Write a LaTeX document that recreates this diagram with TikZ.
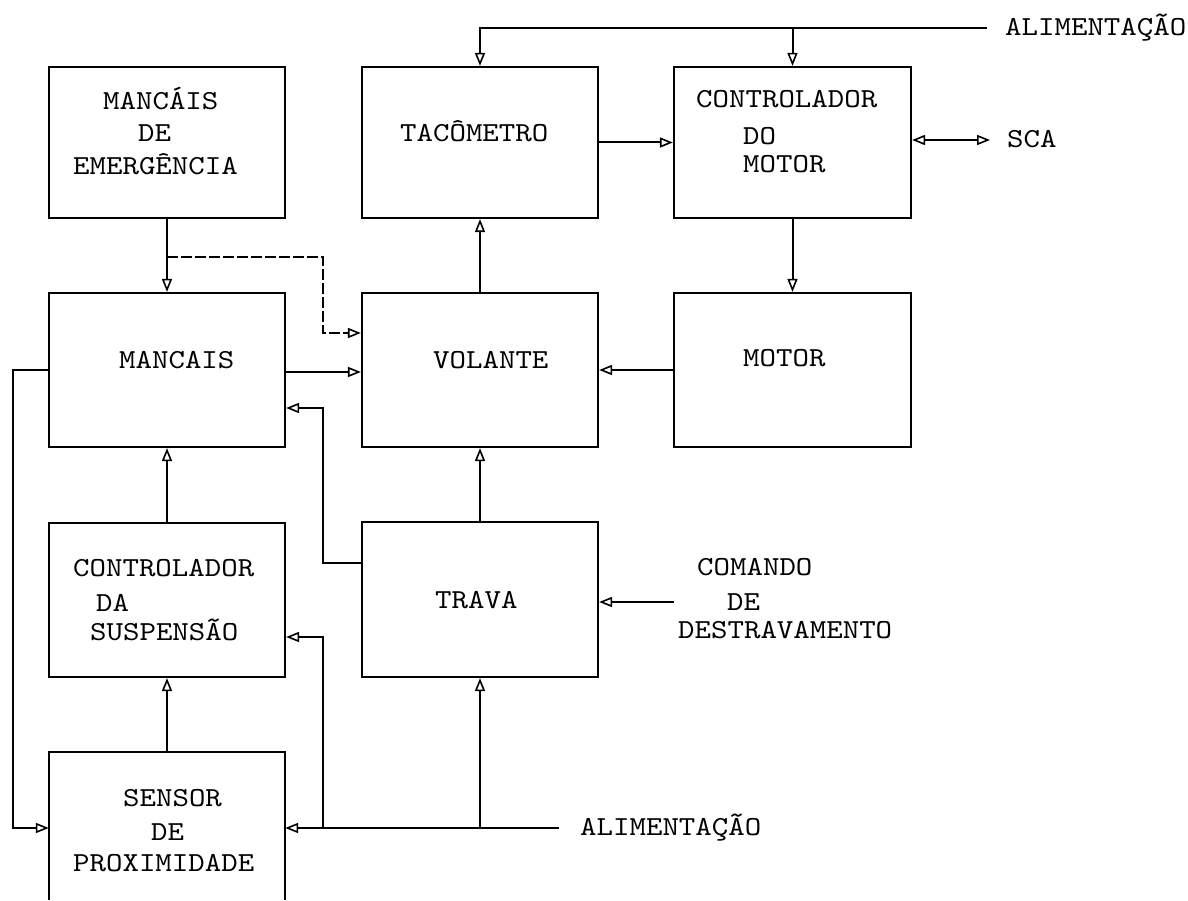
\documentclass[tikz,border=0pt]{standalone}
\usepackage{fontspec}
\newfontfamily\twfont{lmmono10-regular.otf}[FakeStretch=1.14]
\usetikzlibrary{arrows.meta}
\begin{document}
\begin{tikzpicture}[x=1pt,y=-1pt,
  box/.style={draw, line width=2.2pt, inner sep=0pt, rectangle},
  frame/.style={line width=2.2pt},
  lbl/.style={font=\fontsize{27.5}{32}\selectfont\twfont, inner sep=0pt, anchor=base west},
  con/.style={line width=2pt},
  tip/.style={-{Triangle[open,length=13pt,width=10pt,line width=1.6pt]}},
  dtip/.style={{Triangle[open,length=13pt,width=10pt,line width=1.6pt]}-{Triangle[open,length=13pt,width=10pt,line width=1.6pt]}},
  dashline/.style={dash pattern=on 11pt off 3pt}
]
\useasboundingbox (0,0) rectangle (1188,901);
\fill[white] (0,0) rectangle (1188,901);

% boxes
\node[box, minimum width=236pt, minimum height=151pt] (mde) at (167,142.5) {};
\node[box, minimum width=236pt, minimum height=151pt] (tac) at (480,142.5) {};
\node[box, minimum width=237pt, minimum height=151pt] (cdm) at (792.5,142.5) {};
\node[box, minimum width=236pt, minimum height=154pt] (man) at (167,370) {};
\node[box, minimum width=236pt, minimum height=154pt] (vol) at (480,370) {};
\node[box, minimum width=237pt, minimum height=154pt] (mot) at (792.5,370) {};
\node[box, minimum width=236pt, minimum height=154pt] (cds) at (167,600) {};
\node[box, minimum width=236pt, minimum height=155pt] (tra) at (480,599.5) {};
\node[inner sep=0pt, minimum width=236pt, minimum height=148pt] (sen) at (167,826) {};
\draw[frame] (sen.south west) -- (sen.north west) -- (sen.north east) -- (sen.south east);

% texts
\node[lbl] (mde1) at (103,110) {MANCÁIS};
\node[lbl] (mde2) at (138,142) {DE};
\node[lbl] (mde3) at (73,175) {EMERGÊNCIA};
\node[lbl] (tac1) at (400,142) {TACÔMETRO};
\node[lbl] (cdm1) at (696,108) {CONTROLADOR};
\node[lbl] (cdm2) at (743,145) {DO};
\node[lbl] (cdm3) at (743,173) {MOTOR};
\node[lbl] (man1) at (119,368) {MANCAIS};
\node[lbl] (vol1) at (433,368) {VOLANTE};
\node[lbl] (mot1) at (743,366) {MOTOR};
\node[lbl] (cds1) at (73,576) {CONTROLADOR};
\node[lbl] (cds2) at (96,611) {DA};
\node[lbl] (cds3) at (90,640) {SUSPENSÃO};
\node[lbl] (tra1) at (435,608) {TRAVA};
\node[lbl] (sen1) at (123,806) {SENSOR};
\node[lbl] (sen2) at (151,840) {DE};
\node[lbl] (sen3) at (73,871) {PROXIMIDADE};
\node[lbl] (cmd1) at (697,575) {COMANDO};
\node[lbl] (cmd2) at (727,610) {DE};
\node[lbl] (cmd3) at (678,638) {DESTRAVAMENTO};
\node[lbl] (alimB) at (580,835) {ALIMENTAÇÃO};
\node[lbl] (alimT) at (1005,36) {ALIMENTAÇÃO};
\node[lbl] (sca) at (1007,148) {SCA};

% connector points
\coordinate (pT) at (987,28);
\coordinate (pS) at (990,140);
\coordinate (y372) at (0,372);
\coordinate (d1) at (167,257);
\coordinate (d2) at (323,257);
\coordinate (d3) at (323,333);
\coordinate (t1) at (323,563);
\coordinate (t2) at (323,408);
\coordinate (pC) at (674,602);
\coordinate (pB) at (559,828);
\coordinate (b1) at (323,828);
\coordinate (b2) at (323,637);
\coordinate (l1) at (13,370);
\coordinate (l2) at (13,828);

% connectors
\draw[con,tip] (pT) -- (tac.north |- pT) -- (tac.north);
\draw[con,tip] (cdm.north |- pT) -- (cdm.north);
\draw[con,tip] (tac.east) -- (cdm.west);
\draw[con,dtip] (cdm.east |- pS) -- (pS);
\draw[con,tip] (cdm.south) -- (mot.north);
\draw[con,tip] (mot.west) -- (vol.east);
\draw[con,tip] (vol.north) -- (tac.south);
\draw[con,tip] (mde.south) -- (man.north);
\draw[con,dashline,tip] (d1) -- (d2) -- (d3) -- (vol.west |- d3);
\draw[con,tip] (man.east |- y372) -- (vol.west |- y372);
\draw[con,tip] (tra.north) -- (vol.south);
\draw[con,tip] (tra.west |- t1) -- (t1) -- (t2) -- (man.east |- t2);
\draw[con,tip] (cds.north) -- (man.south);
\draw[con,tip] (sen.north) -- (cds.south);
\draw[con,tip] (pC) -- (tra.east |- pC);
\draw[con,tip] (pB) -- (sen.east |- pB);
\draw[con,tip] (tra.south |- pB) -- (tra.south);
\draw[con,tip] (b1) -- (b2) -- (cds.east |- b2);
\draw[con,tip] (man.west) -- (l1) -- (l2) -- (sen.west |- l2);
\end{tikzpicture}
\end{document}
